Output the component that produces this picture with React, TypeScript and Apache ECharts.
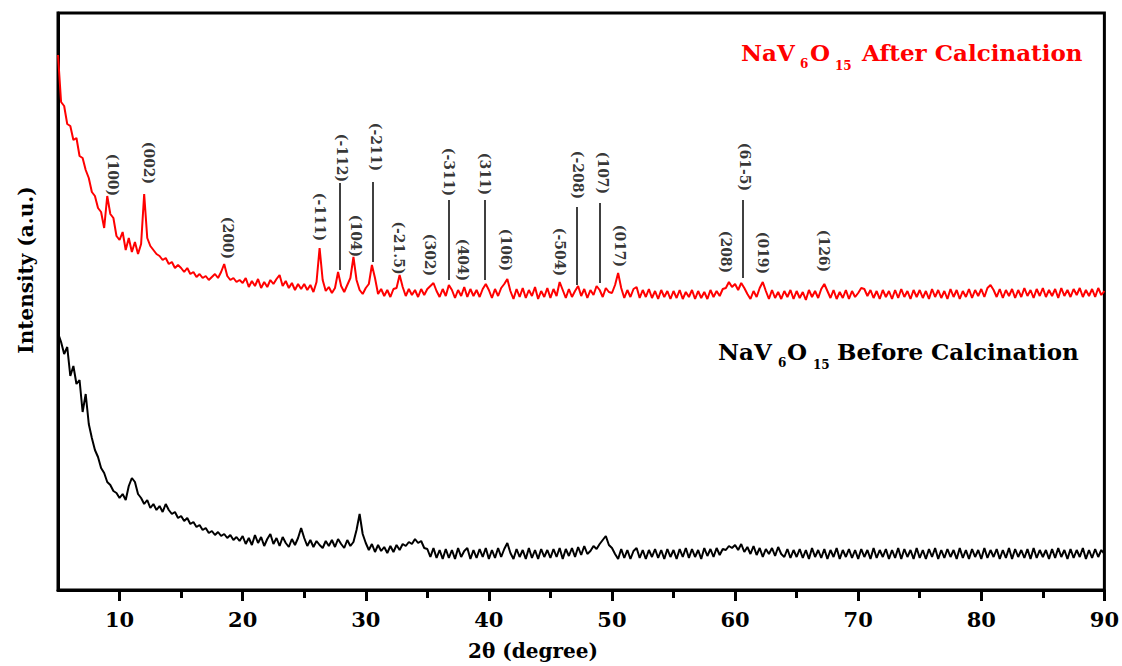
import React, { useEffect, useRef } from "react";
import * as echarts from "echarts";

// 2θ sampling of the patterns
const X_START = 5;
const X_STEP = 0.25;

// NaV6O15 after calcination (red), intensity in arbitrary units
const afterCalc = [
  535, 488, 484, 466, 464, 450, 452, 434, 432, 420, 412, 398, 394, 382, 378, 362, 394, 376, 372, 354,
  350, 358, 340, 352, 338, 348, 336, 346, 396, 352, 344, 340, 336, 334, 330, 332, 326, 328, 322, 325,
  322, 318, 322, 316, 318, 313, 316, 312, 314, 310, 313, 316, 312, 318, 326, 314, 310, 312, 308, 310,
  307, 312, 303, 309, 304, 311, 302, 308, 303, 310, 306, 311, 315, 304, 309, 302, 307, 300, 306, 301,
  306, 300, 305, 298, 308, 342, 310, 299, 303, 297, 302, 318, 304, 298, 305, 312, 333, 310, 300, 296,
  302, 306, 325, 312, 296, 301, 294, 300, 293, 301, 302, 315, 303, 294, 301, 295, 300, 293, 301, 295,
  301, 304, 307, 299, 293, 301, 294, 305, 300, 292, 300, 294, 303, 293, 301, 294, 300, 293, 301, 306,
  300, 292, 301, 294, 302, 306, 311, 299, 291, 301, 293, 302, 292, 300, 294, 303, 291, 299, 293, 302,
  292, 301, 294, 308, 300, 292, 301, 293, 299, 304, 294, 301, 292, 300, 295, 304, 300, 293, 302, 298,
  297, 305, 317, 302, 292, 300, 293, 301, 303, 292, 300, 293, 301, 292, 299, 291, 300, 293, 299, 291,
  299, 292, 300, 291, 298, 293, 300, 291, 299, 292, 298, 291, 300, 293, 299, 294, 301, 302, 308, 303,
  306, 300, 307, 302, 296, 291, 299, 293, 302, 308, 299, 291, 300, 292, 298, 291, 299, 293, 300, 291,
  299, 292, 298, 290, 300, 293, 299, 292, 301, 306, 299, 292, 300, 291, 298, 292, 300, 291, 299, 293,
  297, 302, 301, 294, 300, 292, 299, 291, 300, 293, 299, 291, 300, 292, 301, 293, 299, 291, 300, 293,
  300, 292, 299, 291, 301, 293, 300, 292, 299, 291, 301, 293, 300, 291, 299, 293, 301, 292, 300, 294,
  301, 293, 302, 305, 300, 293, 301, 292, 300, 294, 301, 292, 300, 293, 302, 294, 300, 292, 301, 294,
  302, 293, 300, 294, 301, 292, 302, 294, 300, 293, 301, 295, 302, 293, 300, 294, 301, 293, 302, 295,
  299,
];

// NaV6O15 before calcination (black)
const beforeCalc = [
  257, 248, 236, 243, 214, 224, 206, 210, 178, 196, 166, 152, 140, 133, 122, 117, 108, 105, 99, 97,
  92, 96, 90, 104, 112, 108, 96, 92, 86, 90, 82, 86, 80, 84, 78, 86, 80, 76, 78, 72,
  74, 69, 72, 66, 68, 63, 65, 60, 62, 57, 59, 55, 58, 54, 56, 52, 55, 50, 53, 49,
  54, 46, 52, 45, 55, 47, 53, 44, 51, 56, 46, 52, 44, 53, 47, 43, 51, 45, 52, 62,
  52, 44, 50, 43, 49, 45, 42, 49, 44, 50, 43, 51, 46, 42, 50, 44, 48, 60, 76, 56,
  47, 40, 46, 38, 45, 39, 43, 37, 44, 38, 45, 40, 46, 44, 48, 46, 51, 47, 49, 42,
  41, 33, 42, 32, 40, 31, 41, 32, 40, 31, 42, 33, 39, 42, 31, 40, 32, 41, 33, 42,
  31, 40, 32, 42, 33, 41, 47, 37, 31, 41, 33, 40, 31, 42, 32, 40, 31, 41, 33, 40,
  32, 41, 33, 42, 31, 41, 34, 42, 33, 43, 35, 44, 36, 39, 44, 41, 46, 50, 54, 45,
  42, 36, 31, 41, 32, 40, 31, 39, 42, 32, 40, 31, 40, 33, 41, 32, 40, 31, 41, 33,
  40, 31, 41, 33, 42, 32, 41, 33, 40, 31, 42, 34, 41, 33, 42, 35, 41, 40, 44, 42,
  45, 40, 46, 38, 43, 36, 44, 35, 42, 33, 41, 36, 42, 34, 43, 36, 33, 41, 32, 40,
  33, 41, 32, 40, 31, 42, 33, 40, 32, 41, 31, 40, 33, 42, 31, 40, 33, 41, 32, 40,
  31, 41, 33, 40, 31, 42, 32, 40, 33, 41, 31, 40, 32, 42, 31, 41, 33, 40, 31, 42,
  32, 40, 31, 41, 33, 42, 31, 40, 32, 41, 33, 40, 31, 42, 32, 40, 31, 41, 33, 40,
  31, 42, 32, 40, 33, 41, 31, 40, 32, 42, 31, 41, 33, 40, 32, 41, 31, 42, 32, 40,
  33, 40, 31, 41, 32, 42, 33, 40, 31, 41, 32, 40, 33, 42, 31, 40, 32, 41, 33, 40,
  36,
];

// Miller-index annotations (label centre in 2θ / intensity units)
const peakNames = [
  "(100)", "(002)", "(200)", "(-111)", "(-112)", "(104)", "(-211)", "(-21.5)", "(302)", "(-311)", "(404)",
  "(311)", "(106)", "(-504)", "(-208)", "(107)", "(017)", "(208)", "(61-5)", "(019)", "(126)",
];
const peakLabelX = [9.45, 12.4, 18.85, 26.3, 28.1, 29.2, 30.8, 32.7, 35.2, 36.75, 37.9, 39.7, 41.4, 45.8, 47.2, 49.3, 50.65, 59.3, 60.8, 62.3, 67.25];
const peakLabelY = [415, 427, 352, 373, 432, 354, 443, 342, 335, 418, 330, 416, 340, 338, 415, 417, 344, 338, 423, 337, 339];

// leader lines from raised labels down to their peaks
const leaderX = [27.9, 30.6, 36.75, 39.65, 47.1, 49.0, 60.6];
const leaderTop = [407, 408, 390, 390, 383, 387, 390];
const leaderBottom = [320, 328, 310, 310, 305, 307, 312];

const majorTicks = [10, 20, 30, 40, 50, 60, 70, 80, 90];
const minorTicks = [15, 25, 35, 45, 55, 65, 75, 85];

const X_MIN = 5;
const X_MAX = 90;
const Y_MIN = 0;
const Y_MAX = 577;

const FONT = "DejaVu Serif";

function toPairs(arr: number[]) {
  return arr.map((v, i) => [X_START + i * X_STEP, v]);
}

function txt(x: number, y: number, text: string, size: number, color: string, align = "left") {
  return {
    type: "text",
    x,
    y,
    silent: true,
    style: {
      text,
      fill: color,
      fontFamily: FONT,
      fontWeight: "bold",
      fontSize: size,
      align,
      verticalAlign: "middle",
    },
  };
}

export default function App() {
  const ref = useRef<HTMLDivElement>(null);

  useEffect(() => {
    const chart = echarts.init(ref.current!, null, { renderer: "svg" });
    const option: any = {
      animation: false,
      backgroundColor: "#fff",
      grid: {
        left: 58,
        right: 15,
        top: 13,
        bottom: 76,
        show: true,
        borderColor: "#000",
        borderWidth: 3,
        backgroundColor: "transparent",
      },
      xAxis: [
        {
          type: "value",
          min: X_MIN,
          max: X_MAX,
          position: "bottom",
          splitLine: { show: false },
          axisLine: { show: true, onZero: false, lineStyle: { color: "#000", width: 3 } },
          axisTick: { show: true, inside: false, length: 11, customValues: majorTicks, lineStyle: { color: "#000", width: 3 } },
          axisLabel: {
            show: true,
            customValues: majorTicks,
            margin: 19,
            color: "#000",
            fontFamily: FONT,
            fontWeight: "bold",
            fontSize: 21,
          },
        },
        {
          type: "value",
          min: X_MIN,
          max: X_MAX,
          position: "bottom",
          splitLine: { show: false },
          axisLine: { show: false, onZero: false },
          axisTick: { show: true, inside: false, length: 8, customValues: minorTicks, lineStyle: { color: "#000", width: 3 } },
          axisLabel: { show: false },
        },
      ],
      yAxis: {
        type: "value",
        min: Y_MIN,
        max: Y_MAX,
        splitLine: { show: false },
        axisLine: { show: true, lineStyle: { color: "#000", width: 3 } },
        axisTick: { show: false },
        axisLabel: { show: false },
      },
      graphic: [
        txt(741, 52, "NaV", 23, "#ff0000"),
        txt(800, 64, "6", 12, "#ff0000"),
        txt(810, 52, "O", 23, "#ff0000"),
        txt(835, 66, "15", 12, "#ff0000"),
        txt(862, 52, "After Calcination", 23, "#ff0000"),
        txt(718, 351, "NaV", 23, "#000"),
        txt(778, 363, "6", 12, "#000"),
        txt(787, 351, "O", 23, "#000"),
        txt(813, 365, "15", 12, "#000"),
        txt(837, 351, "Before Calcination", 23, "#000"),
        txt(533, 651, "2θ (degree)", 20, "#000", "center"),
        {
          type: "text",
          x: 26,
          y: 270,
          rotation: Math.PI / 2,
          silent: true,
          style: {
            text: "Intensity (a.u.)",
            fill: "#000",
            fontFamily: FONT,
            fontWeight: "bold",
            fontSize: 20,
            align: "center",
            verticalAlign: "middle",
          },
        },
      ],
      series: [
        {
          type: "line",
          name: "NaV6O15 Before Calcination",
          data: toPairs(beforeCalc),
          showSymbol: false,
          symbol: "none",
          lineStyle: { color: "#000", width: 2 },
          silent: true,
          z: 2,
        },
        {
          type: "line",
          name: "NaV6O15 After Calcination",
          data: toPairs(afterCalc),
          showSymbol: false,
          symbol: "none",
          lineStyle: { color: "#ff0000", width: 2 },
          silent: true,
          z: 3,
        },
        {
          type: "scatter",
          name: "hkl",
          data: peakNames.map((n, i) => ({ name: n, value: [peakLabelX[i], peakLabelY[i]] })),
          symbolSize: 1,
          itemStyle: { color: "rgba(0,0,0,0)" },
          silent: true,
          z: 5,
          label: {
            show: true,
            position: "inside",
            rotate: -90,
            formatter: "{b}",
            color: "#000",
            fontFamily: FONT,
            fontWeight: "bold",
            fontSize: 14,
          },
          markLine: {
            silent: true,
            symbol: ["none", "none"],
            label: { show: false },
            lineStyle: { color: "#000", width: 1.5, type: "solid" },
            data: leaderX.map((x, i) => [
              { coord: [x, leaderTop[i]] },
              { coord: [x, leaderBottom[i]] },
            ]),
          },
        },
      ],
    };
    chart.setOption(option);
    return () => chart.dispose();
  }, []);

  return (
    <div
      ref={ref}
      style={{ position: "absolute", left: 0, top: 0, width: 1122, height: 666, background: "#fff" }}
    />
  );
}
